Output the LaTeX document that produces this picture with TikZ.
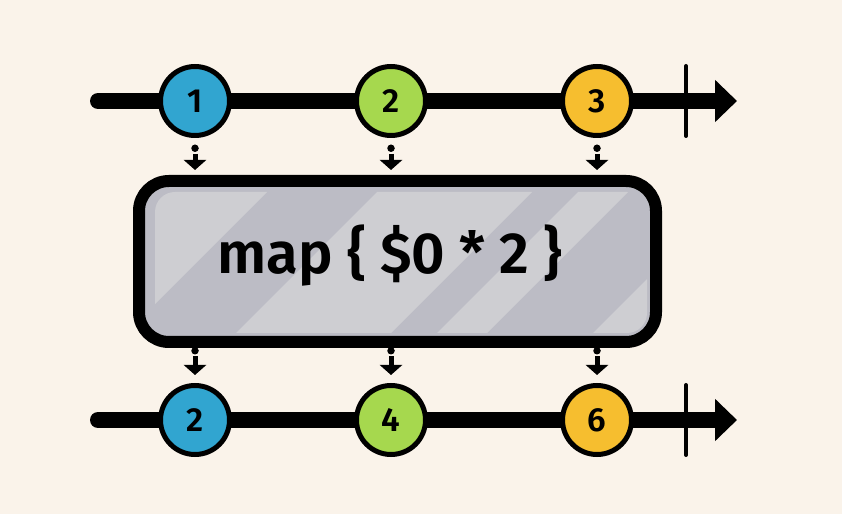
\documentclass[tikz,border=0pt]{standalone}
\usepackage{fontspec}
\setmainfont{Fira Sans}[BoldFont={Fira Sans SemiBold}]
\usetikzlibrary{arrows.meta, positioning, calc}
\definecolor{paper}{RGB}{250,243,234}
\definecolor{ballblue}{RGB}{49,165,208}
\definecolor{ballgreen}{RGB}{166,216,78}
\definecolor{ballyellow}{RGB}{246,190,47}
\definecolor{boxgray}{RGB}{188,188,197}
\definecolor{stripegray}{RGB}{206,206,210}

\begin{document}
\begin{tikzpicture}[
    ball/.style={circle, draw=black, line width=0.1cm, fill=#1, minimum size=1.38cm, inner sep=0pt, outer sep=0pt, font=\fontsize{19}{19}\selectfont\bfseries},
    timeline/.style={line width=0.32cm, line cap=round, -{Triangle[length=0.44cm, width=0.82cm]}},
    tickmark/.style={line width=0.08cm, line cap=round},
    dotmark/.style={circle, fill=black, minimum size=0.15cm, inner sep=0pt, outer sep=0pt},
    feed/.style={line width=0.1cm, shorten <=0.04cm, -{Triangle[length=0.2cm, width=0.44cm]}}
    ]
        \fill[paper] (0,0) rectangle (16.84,10.28);
        \useasboundingbox (0,0) rectangle (16.84,10.28);

        % source stream
        \coordinate (S0) at (1.96,8.26);
        \coordinate (S1) at (14.74,8.26);
        \coordinate (SK) at (13.72,8.26);
        \draw[timeline] (S0) -- (S1);
        \draw[tickmark] ($(SK)+(0,0.7)$) -- ($(SK)+(0,-0.7)$);
        \node[ball=ballblue] (c1) at (3.9,8.26) {1};
        \node[ball=ballgreen, right=2.54cm of c1] (c2) {2};
        \node[ball=ballyellow, right=2.74cm of c2] (c3) {3};

        % operator box
        \node[draw, line width=0.24cm, rounded corners=0.6cm, fill=boxgray, outer sep=0pt, minimum width=10.34cm, minimum height=3.22cm] (box) at (7.95,5.05) {};
        \begin{scope}
            \clip[rounded corners=0.4cm] (3.10,3.62) rectangle (12.94,6.44);
            \fill[stripegray] (0,3.4) -- (2.3,3.4) -- (5.6,6.7) -- (0,6.7) -- cycle;
            \fill[stripegray] (4.5,3.4) -- (7.6,3.4) -- (10.9,6.7) -- (7.8,6.7) -- cycle;
            \fill[stripegray] (8.52,3.4) -- (9.52,3.4) -- (12.82,6.7) -- (11.82,6.7) -- cycle;
            \fill[stripegray] (11.64,3.4) -- (16,3.4) -- (16,6.7) -- (14.94,6.7) -- cycle;
        \end{scope}
        \node[anchor=base, font=\fontsize{33}{33}\selectfont\bfseries] (fn) at (7.8,4.8) {map \{ \$0 * 2 \}};

        % result stream
        \coordinate (R0) at (1.96,1.88);
        \coordinate (R1) at (14.74,1.88);
        \coordinate (RK) at (13.72,1.88);
        \draw[timeline] (R0) -- (R1);
        \draw[tickmark] ($(RK)+(0,0.7)$) -- ($(RK)+(0,-0.7)$);
        \node[ball=ballblue, below=5cm of c1] (d1) {2};
        \node[ball=ballgreen, below=5cm of c2] (d2) {4};
        \node[ball=ballyellow, below=5cm of c3] (d3) {6};

        % input arrows
        \node[dotmark, below=0.18cm of c1] (p1) {};
        \node[dotmark, below=0.18cm of c2] (p2) {};
        \node[dotmark, below=0.18cm of c3] (p3) {};
        \draw[feed, shorten >=0.22cm] (p1) -- (p1 |- box.north);
        \draw[feed, shorten >=0.22cm] (p2) -- (p2 |- box.north);
        \draw[feed, shorten >=0.22cm] (p3) -- (p3 |- box.north);

        % output arrows
        \node[dotmark, above=0.62cm of d1] (q1) {};
        \node[dotmark, above=0.62cm of d2] (q2) {};
        \node[dotmark, above=0.62cm of d3] (q3) {};
        \draw[feed, shorten >=0.21cm] (q1) -- (d1);
        \draw[feed, shorten >=0.21cm] (q2) -- (d2);
        \draw[feed, shorten >=0.21cm] (q3) -- (d3);
\end{tikzpicture}
\end{document}
